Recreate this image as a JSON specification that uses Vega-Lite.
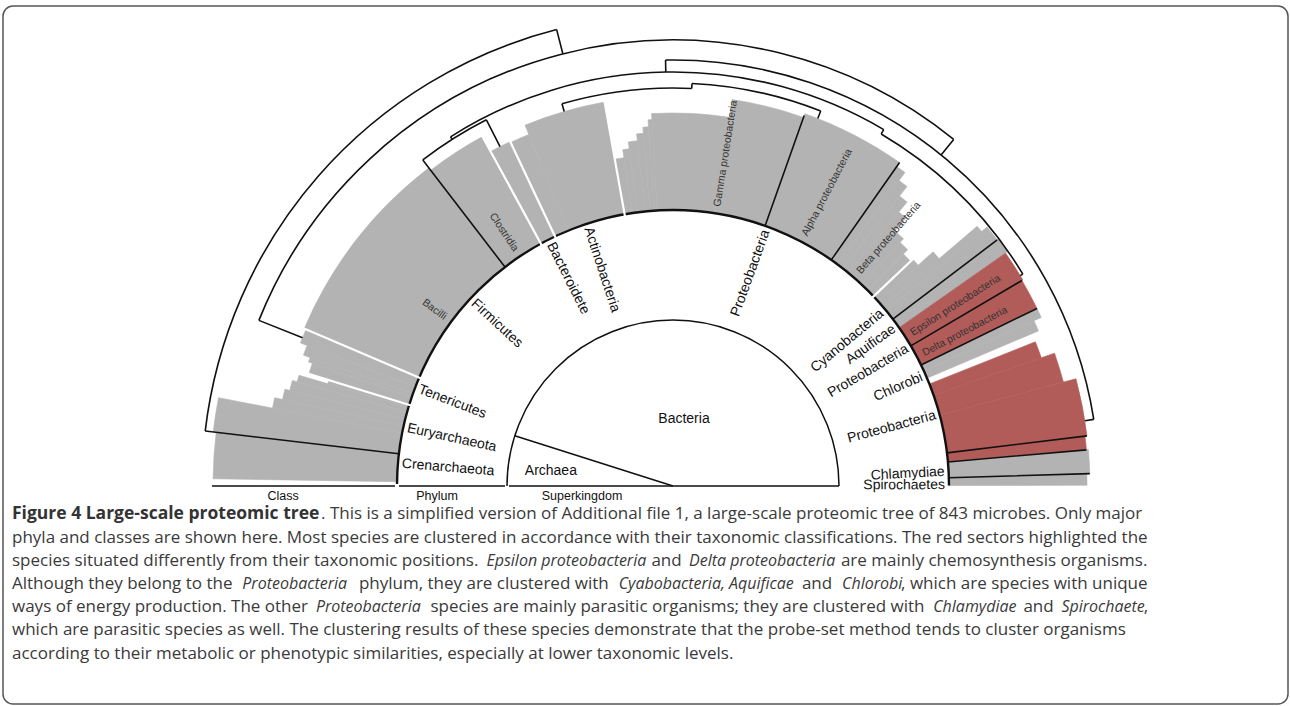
{
 "$schema": "https://vega.github.io/schema/vega-lite/v6.json",
 "width": 1290, "height": 706,
 "autosize": {"type": "fit", "contains": "padding"},
 "padding": {"left": 3, "top": 6, "right": 2, "bottom": 2},
 "background": "#ffffff",
 "config": {"view": {"stroke": "#555555", "strokeWidth": 1.5, "cornerRadius": 10}},
 "datasets": {
  "sect": [
   {"t": -89.1, "t2": -83.2, "r": 55.2, "r2": 92, "g": "gray"},
   {"t": -83.2, "t2": -79, "r": 55.2, "r2": 92.6, "g": "gray"},
   {"t": -79, "t2": -77.5, "r": 55.2, "r2": 81.6, "g": "gray"},
   {"t": -77.5, "t2": -76, "r": 55.2, "r2": 80, "g": "gray"},
   {"t": -76, "t2": -74.5, "r": 55.2, "r2": 79, "g": "gray"},
   {"t": -74.5, "t2": -73.5, "r": 55.2, "r2": 78, "g": "gray"},
   {"t": -73.5, "t2": -72.9, "r": 55.2, "r2": 72, "g": "gray"},
   {"t": -72.9, "t2": -71.2, "r": 55.2, "r2": 76.2, "g": "gray"},
   {"t": -71.2, "t2": -70.5, "r": 55.2, "r2": 77, "g": "gray"},
   {"t": -70.5, "t2": -69, "r": 55.2, "r2": 78.4, "g": "gray"},
   {"t": -69, "t2": -66.9, "r": 55.2, "r2": 79.8, "g": "gray"},
   {"t": -66.9, "t2": -37.5, "r": 55.2, "r2": 80.2, "g": "gray"},
   {"t": -37.5, "t2": -28.6, "r": 55.2, "r2": 79.6, "g": "gray"},
   {"t": -28.6, "t2": -25.3, "r": 55.2, "r2": 76.2, "g": "gray"},
   {"t": -25.3, "t2": -22.3, "r": 55.2, "r2": 76, "g": "gray"},
   {"t": -22.3, "t2": -10.1, "r": 55.2, "r2": 78, "g": "gray"},
   {"t": -10.1, "t2": -8.5, "r": 55.2, "r2": 66.4, "g": "gray"},
   {"t": -8.5, "t2": -7.4, "r": 55.2, "r2": 68, "g": "gray"},
   {"t": -7.4, "t2": -5.9, "r": 55.2, "r2": 69.4, "g": "gray"},
   {"t": -5.9, "t2": -4.8, "r": 55.2, "r2": 70.8, "g": "gray"},
   {"t": -4.8, "t2": -3.9, "r": 55.2, "r2": 72, "g": "gray"},
   {"t": -3.9, "t2": -3.3, "r": 55.2, "r2": 73.4, "g": "gray"},
   {"t": -3.3, "t2": 8.7, "r": 55.2, "r2": 74.6, "g": "gray"},
   {"t": 8.7, "t2": 19.5, "r": 55.2, "r2": 78.2, "g": "gray"},
   {"t": 19.5, "t2": 35, "r": 55.2, "r2": 79, "g": "gray"},
   {"t": 35, "t2": 36.5, "r": 55.2, "r2": 78, "g": "gray"},
   {"t": 36.5, "t2": 38, "r": 55.2, "r2": 76, "g": "gray"},
   {"t": 38, "t2": 39.5, "r": 55.2, "r2": 73.6, "g": "gray"},
   {"t": 39.5, "t2": 41, "r": 55.2, "r2": 71, "g": "gray"},
   {"t": 41, "t2": 43, "r": 55.2, "r2": 67.6, "g": "gray"},
   {"t": 43, "t2": 44.8, "r": 55.2, "r2": 66.6, "g": "gray"},
   {"t": 44.8, "t2": 46.6, "r": 55.2, "r2": 65.4, "g": "gray"},
   {"t": 46.6, "t2": 48, "r": 55.2, "r2": 66, "g": "gray"},
   {"t": 48, "t2": 49.5, "r": 55.2, "r2": 70, "g": "gray"},
   {"t": 49.5, "t2": 50.5, "r": 55.2, "r2": 80, "g": "gray"},
   {"t": 50.5, "t2": 52.8, "r": 55.2, "r2": 81.4, "g": "gray"},
   {"t": 52.8, "t2": 55, "r": 55.2, "r2": 81.6, "g": "gray"},
   {"t": 55, "t2": 59.5, "r": 55.2, "r2": 81.2, "g": "red"},
   {"t": 59.5, "t2": 64, "r": 55.2, "r2": 81, "g": "red"},
   {"t": 64, "t2": 65.4, "r": 55.2, "r2": 81, "g": "gray"},
   {"t": 65.4, "t2": 67, "r": 55.2, "r2": 79.4, "g": "gray"},
   {"t": 68.3, "t2": 70.8, "r": 55.2, "r2": 78, "g": "red"},
   {"t": 70.8, "t2": 75.1, "r": 55.2, "r2": 80.8, "g": "red"},
   {"t": 75.1, "t2": 83.1, "r": 55.2, "r2": 83.4, "g": "red"},
   {"t": 83.1, "t2": 85, "r": 55.2, "r2": 83, "g": "red"},
   {"t": 85, "t2": 88.3, "r": 55.2, "r2": 83.4, "g": "gray"},
   {"t": 88.3, "t2": 89.9, "r": 55.2, "r2": 82.8, "g": "gray"}
  ],
  "tree": [
   {"t": -83.3, "t2": -14.3, "r": 94.2, "r2": 94.2},
   {"t": -68.2, "t2": 39, "r": 89.2, "r2": 89.2},
   {"t": -1, "t2": 81, "r": 85.2, "r2": 85.2},
   {"t": -32.5, "t2": 30.6, "r": 82.8, "r2": 82.8},
   {"t": -37.5, "t2": -27, "r": 82.2, "r2": 82.2},
   {"t": 30.6, "t2": 58.8, "r": 81.8, "r2": 81.8},
   {"t": -16.2, "t2": 2.7, "r": 79.6, "r2": 79.6},
   {"t": 2.7, "t2": 21.5, "r": 80.6, "r2": 80.6},
   {"t": -83.3, "t2": -83.3, "r": 55.2, "r2": 94.2},
   {"t": -14.3, "t2": -14.3, "r": 89.2, "r2": 94.2},
   {"t": -68.2, "t2": -68.2, "r": 79.8, "r2": 89.2},
   {"t": 39, "t2": 39, "r": 85.2, "r2": 89.2},
   {"t": 81, "t2": 81, "r": 83.4, "r2": 85.2},
   {"t": -1, "t2": -1, "r": 82.8, "r2": 85.2},
   {"t": -32.5, "t2": -32.5, "r": 82.2, "r2": 82.8},
   {"t": -27, "t2": -27, "r": 76.2, "r2": 82.2},
   {"t": 30.6, "t2": 30.6, "r": 81.8, "r2": 82.8},
   {"t": 58.8, "t2": 58.8, "r": 81.2, "r2": 81.8},
   {"t": -16.2, "t2": -16.2, "r": 78, "r2": 79.6},
   {"t": 2.7, "t2": 2.7, "r": 79.6, "r2": 80.6},
   {"t": 21.5, "t2": 21.5, "r": 79, "r2": 80.6},
   {"t": -37.5, "t2": -37.5, "r": 55.2, "r2": 82.2},
   {"t": 19.5, "t2": 19.5, "r": 55.2, "r2": 78.6},
   {"t": 35, "t2": 35, "r": 55.2, "r2": 79},
   {"t": 52.8, "t2": 52.8, "r": 55.2, "r2": 81.4},
   {"t": 59.5, "t2": 59.5, "r": 55.2, "r2": 81},
   {"t": 64, "t2": 64, "r": 55.2, "r2": 81},
   {"t": 83.1, "t2": 83.1, "r": 55.2, "r2": 83.4},
   {"t": 85, "t2": 85, "r": 55.2, "r2": 83},
   {"t": 88.3, "t2": 88.3, "r": 55.2, "r2": 83.4}
  ],
  "ring": [
   {"t": -89.6, "t2": 89.9, "r": 55.2, "r2": 55.2}
  ],
  "gaps": [
   {"t": -72.9, "t2": -72.9, "r": 53.6, "r2": 80},
   {"t": -66.9, "t2": -66.9, "r": 53.6, "r2": 81},
   {"t": -28.6, "t2": -28.6, "r": 53.6, "r2": 80.2},
   {"t": -25.3, "t2": -25.3, "r": 53.6, "r2": 79},
   {"t": -10.1, "t2": -10.1, "r": 53.6, "r2": 79},
   {"t": 46.6, "t2": 46.6, "r": 53.6, "r2": 79}
  ],
  "frame": [
   {"t": -90, "t2": 90, "r": 33.2, "r2": 33.2},
   {"t": -72.4, "t2": -72.4, "r": 0, "r2": 33.2},
   {"t": -90, "t2": -90, "r": 0, "r2": 32.8},
   {"t": -90, "t2": -90, "r": 33.6, "r2": 54.8},
   {"t": -90, "t2": -90, "r": 55.6, "r2": 92.2},
   {"t": 90, "t2": 90, "r": 0, "r2": 33.2}
  ],
  "phyL": [
   {"t": -85.3, "r": 54.4, "label": "Crenarchaeota"},
   {"t": -77.7, "r": 54.4, "label": "Euryarchaeota"},
   {"t": -69.1, "r": 54.4, "label": "Tenericutes"},
   {"t": -47.3, "r": 54.4, "label": "Firmicutes"},
   {"t": -26.8, "r": 54.4, "label": "Bacteroidete"},
   {"t": -18.2, "r": 54.4, "label": "Actinobacteria"}
  ],
  "phyR": [
   {"t": 20, "r": 54.4, "label": "Proteobacteria"},
   {"t": 50.2, "r": 54.4, "label": "Cyanobacteria"},
   {"t": 54.4, "r": 54.4, "label": "Aquificae"},
   {"t": 59.5, "r": 54.4, "label": "Proteobacteria"},
   {"t": 66.3, "r": 54.4, "label": "Chlorobi"},
   {"t": 74.9, "r": 54.4, "label": "Proteobacteria"},
   {"t": 87, "r": 54.4, "label": "Chlamydiae"},
   {"t": 89.8, "r": 54.4, "label": "Spirochaetes"}
  ],
  "clsL": [
   {"t": -53.5, "r": 56.6, "label": "Bacilli"},
   {"t": -33.7, "r": 56.6, "label": "Clostridia"}
  ],
  "clsR": [
   {"t": 9, "r": 56.6, "label": "Gamma proteobacteria"},
   {"t": 27.7, "r": 56.6, "label": "Alpha proteobacteria"},
   {"t": 41, "r": 56.6, "label": "Beta proteobacteria"},
   {"t": 57.4, "r": 56.6, "label": "Epsilon proteobacteria"},
   {"t": 62.1, "r": 56.6, "label": "Delta proteobacteria"}
  ],
  "hz": [
   {"t": 9.3, "r": 13.6, "label": "Bacteria"},
   {"t": -83.2, "r": 24.6, "label": "Archaea"}
  ],
  "bot": [
   {"t": -90, "r": 78, "label": "Class"},
   {"t": -90, "r": 47.2, "label": "Phylum"},
   {"t": -90, "r": 18.2, "label": "Superkingdom"}
  ],
  "capN": [
   {"x": -70.4, "y": -6.66, "text": ". This is a simplified version of Additional file 1, a large-scale proteomic tree of 843 microbes. Only major"},
   {"x": -132.2, "y": -11.3, "text": "phyla and classes are shown here. Most species are clustered in accordance with their taxonomic classifications. The red sectors highlighted the"},
   {"x": -132.2, "y": -15.94, "text": "species situated differently from their taxonomic positions."},
   {"x": -4.32, "y": -15.94, "text": "and"},
   {"x": 33.58, "y": -15.94, "text": "are mainly chemosynthesis organisms."},
   {"x": -132.2, "y": -20.58, "text": "Although they belong to the"},
   {"x": -62.82, "y": -20.58, "text": "phylum, they are clustered with"},
   {"x": 25.78, "y": -20.58, "text": "and"},
   {"x": 45.62, "y": -20.58, "text": ", which are species with unique"},
   {"x": -132.2, "y": -25.22, "text": "ways of energy production. The other"},
   {"x": -48.52, "y": -25.22, "text": "species are mainly parasitic organisms; they are clustered with"},
   {"x": 70.08, "y": -25.22, "text": "and"},
   {"x": 94.16, "y": -25.22, "text": ","},
   {"x": -132.2, "y": -29.86, "text": "which are parasitic species as well. The clustering results of these species demonstrate that the probe-set method tends to cluster organisms"},
   {"x": -132.2, "y": -34.5, "text": "according to their metabolic or phenotypic similarities, especially at lower taxonomic levels."}
  ],
  "capB": [
   {"x": -132.2, "y": -6.66, "text": "Figure 4 Large-scale proteomic tree"}
  ],
  "capI": [
   {"x": -37.32, "y": -15.94, "text": "Epsilon proteobacteria"},
   {"x": 3.2, "y": -15.94, "text": "Delta proteobacteria"},
   {"x": -86.14, "y": -20.58, "text": "Proteobacteria"},
   {"x": -10.86, "y": -20.58, "text": "Cyabobacteria, Aquificae"},
   {"x": 33.82, "y": -20.58, "text": "Chlorobi"},
   {"x": -71.42, "y": -25.22, "text": "Proteobacteria"},
   {"x": 52.04, "y": -25.22, "text": "Chlamydiae"},
   {"x": 77.68, "y": -25.22, "text": "Spirochaete"}
  ]
 },
 "layer": [
  {
   "encoding": {
    "x": {"datum": 0, "type": "quantitative", "scale": {"domain": [-134, 123], "nice": false, "zero": false}, "axis": null},
    "y": {"datum": 0, "type": "quantitative", "scale": {"domain": [-43.6, 96], "nice": false, "zero": false}, "axis": null},
    "theta": {"field": "t", "type": "quantitative", "stack": null, "scale": {"domain": [-90, 90], "range": [-1.5707963, 1.5707963], "nice": false, "zero": false}},
    "radius": {"field": "r", "type": "quantitative", "scale": {"type": "linear", "domain": [0, 100], "range": [0, 500], "nice": false, "zero": false}}
   },
   "resolve": {"scale": {"angle": "independent"}},
   "layer": [
    {"data": {"name": "sect"}, "mark": {"type": "arc", "strokeWidth": 0.6},
     "encoding": {"theta2": {"field": "t2"}, "radius2": {"field": "r2"},
      "color": {"field": "g", "type": "nominal", "scale": {"domain": ["gray", "red"], "range": ["#b3b3b3", "#b25c5a"]}, "legend": null},
      "stroke": {"field": "g", "type": "nominal", "scale": {"domain": ["gray", "red"], "range": ["#b3b3b3", "#b25c5a"]}, "legend": null}}},
    {"data": {"name": "tree"}, "mark": {"type": "arc", "filled": false, "stroke": "#111111", "strokeWidth": 1.6},
     "encoding": {"theta2": {"field": "t2"}, "radius2": {"field": "r2"}}},
    {"data": {"name": "ring"}, "mark": {"type": "arc", "filled": false, "stroke": "#111111", "strokeWidth": 2.4},
     "encoding": {"theta2": {"field": "t2"}, "radius2": {"field": "r2"}}},
    {"data": {"name": "gaps"}, "mark": {"type": "arc", "filled": false, "stroke": "#ffffff", "strokeWidth": 2.2},
     "encoding": {"theta2": {"field": "t2"}, "radius2": {"field": "r2"}}},
    {"data": {"name": "frame"}, "mark": {"type": "arc", "filled": false, "stroke": "#111111", "strokeWidth": 1.5},
     "encoding": {"theta2": {"field": "t2"}, "radius2": {"field": "r2"}}},
    {"data": {"name": "phyL"}, "mark": {"type": "text", "align": "left", "baseline": "middle", "fontSize": 14, "font": "Liberation Sans", "color": "#111111"},
     "encoding": {"text": {"field": "label", "type": "nominal"}, "angle": {"field": "t", "type": "quantitative", "scale": {"domain": [-90, 90], "range": [0, 180]}}}},
    {"data": {"name": "phyR"}, "mark": {"type": "text", "align": "right", "baseline": "middle", "fontSize": 14, "font": "Liberation Sans", "color": "#111111"},
     "encoding": {"text": {"field": "label", "type": "nominal"}, "angle": {"field": "t", "type": "quantitative", "scale": {"domain": [-90, 90], "range": [-180, 0]}}}},
    {"data": {"name": "clsL"}, "mark": {"type": "text", "align": "right", "baseline": "middle", "fontSize": 10.5, "font": "Liberation Sans", "color": "#333333"},
     "encoding": {"text": {"field": "label", "type": "nominal"}, "angle": {"field": "t", "type": "quantitative", "scale": {"domain": [-90, 90], "range": [0, 180]}}}},
    {"data": {"name": "clsR"}, "mark": {"type": "text", "align": "left", "baseline": "middle", "fontSize": 10.5, "font": "Liberation Sans", "color": "#333333"},
     "encoding": {"text": {"field": "label", "type": "nominal"}, "angle": {"field": "t", "type": "quantitative", "scale": {"domain": [-90, 90], "range": [-180, 0]}}}},
    {"data": {"name": "hz"}, "mark": {"type": "text", "align": "center", "baseline": "middle", "fontSize": 14, "font": "Liberation Sans", "color": "#111111"},
     "encoding": {"text": {"field": "label", "type": "nominal"}}},
    {"data": {"name": "bot"}, "mark": {"type": "text", "align": "center", "baseline": "alphabetic", "dy": 13.5, "fontSize": 12.5, "font": "Liberation Sans", "color": "#111111"},
     "encoding": {"text": {"field": "label", "type": "nominal"}}}
   ]
  },
  {"data": {"name": "capN"}, "mark": {"type": "text", "align": "left", "baseline": "alphabetic", "font": "Open Sans", "fontSize": 17, "color": "#3a3a3a"},
   "encoding": {
    "x": {"field": "x", "type": "quantitative", "scale": {"domain": [-134, 123], "nice": false, "zero": false}, "axis": null},
    "y": {"field": "y", "type": "quantitative", "scale": {"domain": [-43.6, 96], "nice": false, "zero": false}, "axis": null},
    "text": {"field": "text", "type": "nominal"}}},
  {"data": {"name": "capB"}, "mark": {"type": "text", "align": "left", "baseline": "alphabetic", "font": "Open Sans", "fontSize": 17.5, "fontWeight": "bold", "color": "#333333"},
   "encoding": {
    "x": {"field": "x", "type": "quantitative", "scale": {"domain": [-134, 123], "nice": false, "zero": false}, "axis": null},
    "y": {"field": "y", "type": "quantitative", "scale": {"domain": [-43.6, 96], "nice": false, "zero": false}, "axis": null},
    "text": {"field": "text", "type": "nominal"}}},
  {"data": {"name": "capI"}, "mark": {"type": "text", "align": "left", "baseline": "alphabetic", "font": "Open Sans", "fontSize": 16, "fontStyle": "italic", "color": "#3a3a3a"},
   "encoding": {
    "x": {"field": "x", "type": "quantitative", "scale": {"domain": [-134, 123], "nice": false, "zero": false}, "axis": null},
    "y": {"field": "y", "type": "quantitative", "scale": {"domain": [-43.6, 96], "nice": false, "zero": false}, "axis": null},
    "text": {"field": "text", "type": "nominal"}}}
 ]
}
